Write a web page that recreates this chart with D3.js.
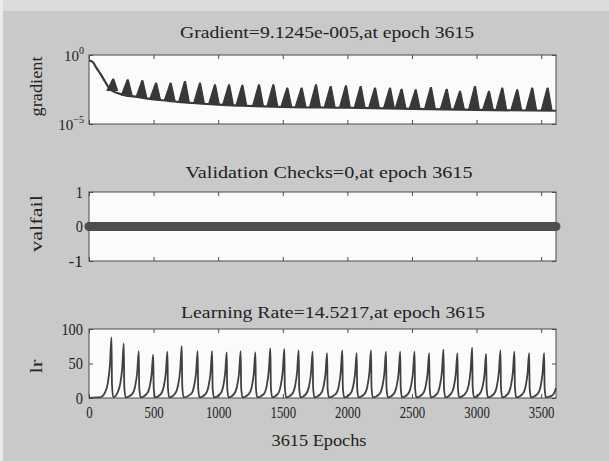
<!DOCTYPE html>
<html>
<head>
<meta charset="utf-8">
<script src="https://cdn.jsdelivr.net/npm/d3@7"></script>
<style>
  html, body { margin: 0; padding: 0; background: #cacaca; }
  svg { display: block; }
  text { font-family: "Liberation Serif", "DejaVu Serif", serif; fill: #222; }
</style>
</head>
<body>
<script>
// figure size
var svgWidth = 609;
var svgHeight = 461;

// x axis (epochs)
var epochMax = 3615;
var xTicks = [0, 500, 1000, 1500, 2000, 2500, 3000, 3500];

// titles
var titles = [
  "Gradient=9.1245e-005,at epoch 3615",
  "Validation Checks=0,at epoch 3615",
  "Learning Rate=14.5217,at epoch 3615"
];
var yLabels = ["gradient", "valfail", "lr"];
var xLabel = "3615 Epochs";

// gradient: lower line (epoch, value)
var gradEpoch = [0, 26, 59, 85, 124, 155, 175, 266, 382, 485, 614, 743, 872, 1001, 1182, 1500, 2000, 2500, 3000, 3615];
var gradValue = [0.39, 0.33, 0.11, 0.048, 0.012, 4.0e-3, 2.7e-3, 1.3e-3, 8.9e-4, 6.3e-4, 4.8e-4, 3.6e-4, 3.0e-4, 2.5e-4, 2.1e-4, 1.7e-4, 1.5e-4, 1.25e-4, 1.05e-4, 9.1245e-5];

// gradient oscillation teeth: peak epoch, top value, base value
var toothEpoch = [188, 300, 413, 519, 632, 743, 859, 975, 1084, 1187, 1316, 1427, 1535, 1646, 1757, 1871,
  1989, 2103, 2214, 2330, 2420, 2529, 2647, 2769, 2872, 2988, 3096, 3199, 3315, 3431, 3550];
var toothTop = [1.8e-2, 1.6e-2, 1.4e-2, 9.1e-3, 9.1e-3, 1.2e-2, 9.1e-3, 6.9e-3, 6.9e-3, 6.3e-3, 6.9e-3, 6.9e-3, 4.0e-3, 4.0e-3, 6.9e-3, 5.2e-3,
  5.8e-3, 5.2e-3, 4.0e-3, 4.0e-3, 3.3e-3, 3.0e-3, 4.4e-3, 3.3e-3, 2.3e-3, 5.2e-3, 2.3e-3, 4.0e-3, 3.0e-3, 4.0e-3, 4.0e-3];
var toothBase = [2.5e-3, 1.17e-3, 8.1e-4, 5.9e-4, 4.6e-4, 3.6e-4, 3.0e-4, 2.5e-4, 2.3e-4, 2.1e-4, 1.95e-4, 1.8e-4, 1.74e-4, 1.66e-4, 1.6e-4, 1.56e-4,
  1.5e-4, 1.45e-4, 1.4e-4, 1.33e-4, 1.28e-4, 1.23e-4, 1.19e-4, 1.14e-4, 1.1e-4, 1.05e-4, 1.02e-4, 1.0e-4, 9.8e-5, 9.5e-5, 9.3e-5];

// validation checks
var valEpoch = [0, 3615];
var valValue = [0, 0];

// learning rate (epoch, value)
var lrEpoch = [
  0, 90, 124, 146, 162, 174, 178, 188,
  219, 241, 257, 269, 273, 283,
  335, 357, 373, 385, 389, 399,
  447, 469, 485, 497, 501, 511,
  557, 579, 595, 607, 611, 621,
  668, 690, 706, 718, 722, 732,
  791, 813, 829, 841, 845, 855,
  903, 925, 941, 953, 957, 967,
  1016, 1038, 1054, 1066, 1070, 1080,
  1124, 1146, 1162, 1174, 1178, 1188,
  1238, 1260, 1276, 1288, 1292, 1302,
  1354, 1376, 1392, 1404, 1408, 1418,
  1462, 1484, 1500, 1512, 1516, 1526,
  1573, 1595, 1611, 1623, 1627, 1637,
  1681, 1703, 1719, 1731, 1735, 1745,
  1793, 1815, 1831, 1843, 1847, 1857,
  1911, 1933, 1949, 1961, 1965, 1975,
  2022, 2044, 2060, 2072, 2076, 2086,
  2133, 2155, 2171, 2183, 2187, 2197,
  2249, 2271, 2287, 2299, 2303, 2313,
  2359, 2381, 2397, 2409, 2413, 2423,
  2470, 2492, 2508, 2520, 2524, 2534,
  2583, 2605, 2621, 2633, 2637, 2647,
  2694, 2716, 2732, 2744, 2748, 2758,
  2802, 2824, 2840, 2852, 2856, 2866,
  2916, 2938, 2954, 2966, 2970, 2980,
  3024, 3046, 3062, 3074, 3078, 3088,
  3135, 3157, 3173, 3185, 3189, 3199,
  3243, 3265, 3281, 3293, 3297, 3307,
  3357, 3379, 3395, 3407, 3411, 3421,
  3473, 3495, 3511, 3523, 3527, 3537,
  3580, 3600, 3615
];
var lrValue = [
  0.3, 1.2, 8, 22, 48, 88, 19, 1,
  7, 20, 43, 79, 17, 1,
  6, 17, 37, 68, 15, 1,
  6, 16, 35, 63, 14, 1,
  6, 17, 37, 67, 15, 1,
  7, 19, 41, 75, 17, 1,
  6, 17, 37, 68, 15, 1,
  6, 17, 37, 68, 15, 1,
  6, 16, 36, 66, 15, 1,
  6, 17, 37, 68, 15, 1,
  6, 16, 36, 66, 15, 1,
  6, 18, 40, 72, 16, 1,
  6, 18, 39, 71, 16, 1,
  6, 17, 38, 69, 15, 1,
  6, 17, 37, 67, 15, 1,
  6, 16, 36, 65, 14, 1,
  6, 17, 38, 69, 15, 1,
  6, 16, 36, 65, 14, 1,
  6, 17, 38, 69, 15, 1,
  6, 17, 37, 67, 15, 1,
  6, 17, 37, 67, 15, 1,
  6, 17, 37, 67, 15, 1,
  6, 16, 36, 65, 14, 1,
  6, 18, 38, 70, 15, 1,
  6, 16, 36, 65, 14, 1,
  7, 18, 40, 73, 16, 1,
  6, 16, 35, 64, 14, 1,
  6, 17, 38, 69, 15, 1,
  6, 17, 37, 67, 15, 1,
  6, 16, 36, 65, 14, 1,
  6, 16, 36, 65, 14, 1,
  3, 7, 14.5217
];

// layout
var plotLeft = 89, plotRight = 556;
var panels = [
  { top: 55, bottom: 124 },
  { top: 192, bottom: 261 },
  { top: 329, bottom: 398 }
];
var titlePos = [[327, 38, 294], [329, 178, 287], [333, 318, 304]];
var lineColor = "#383838";
var boxColor = "#4a4a4a";
var fontStack = '"Liberation Serif", "DejaVu Serif", serif';

var svg = d3.select("body")
  .append("svg")
  .attr("width", svgWidth)
  .attr("height", svgHeight);

// scanned page tint
svg.append("rect").attr("width", svgWidth).attr("height", svgHeight).attr("fill", "#c9c9c9");
svg.append("rect").attr("width", svgWidth).attr("height", 11).attr("fill", "#dcdcdc");
svg.append("rect").attr("width", 3).attr("height", svgHeight).attr("fill", "#ebebeb");

var x = d3.scaleLinear().domain([0, epochMax]).range([plotLeft, plotRight]);

var yScales = [
  d3.scaleLog().domain([1e-5, 1]).range([panels[0].bottom, panels[0].top]),
  d3.scaleLinear().domain([-1, 1]).range([panels[1].bottom, panels[1].top]),
  d3.scaleLinear().domain([0, 100]).range([panels[2].bottom, panels[2].top])
];
var yTicks = [[1e-5, 1], [-1, 0, 1], [0, 50, 100]];

function squeeze(sel, perChar) {
  sel.each(function() {
    var t = d3.select(this);
    var s = t.text();
    if (s.length) t.attr("textLength", s.length * perChar).attr("lengthAdjust", "spacingAndGlyphs");
  });
}

panels.forEach(function(p, i) {
  var y = yScales[i];
  var g = svg.append("g");

  // plot area
  g.append("rect")
    .attr("x", plotLeft).attr("y", p.top)
    .attr("width", plotRight - plotLeft).attr("height", p.bottom - p.top)
    .attr("fill", "#fbfbfb");

  // ticks on all four sides, pointing inwards
  var bottomAxis = d3.axisBottom(x).tickValues(xTicks).tickSizeInner(-4).tickSizeOuter(0).tickPadding(8);
  if (i < 2) bottomAxis.tickFormat("");
  else bottomAxis.tickFormat(d => String(d));
  var gb = g.append("g").attr("transform", `translate(0, ${p.bottom})`).call(bottomAxis);
  g.append("g").attr("transform", `translate(0, ${p.top})`)
    .call(d3.axisTop(x).tickValues(xTicks).tickSizeInner(-4).tickSizeOuter(0).tickFormat(""));

  var leftAxis = d3.axisLeft(y).tickValues(yTicks[i]).tickSizeInner(-4).tickSizeOuter(0).tickPadding(6);
  if (i == 0) leftAxis.tickFormat("");
  else leftAxis.tickFormat(d => String(d));
  var gl = g.append("g").attr("transform", `translate(${plotLeft}, 0)`).call(leftAxis);
  g.append("g").attr("transform", `translate(${plotRight}, 0)`)
    .call(d3.axisRight(y).tickValues(yTicks[i]).tickSizeInner(-4).tickSizeOuter(0).tickFormat(""));

  g.selectAll(".domain").remove();
  g.selectAll(".tick line").attr("stroke", boxColor);
  g.selectAll(".tick text")
    .style("font-family", fontStack)
    .style("font-size", "17px")
    .attr("fill", "#222");
  squeeze(gb.selectAll(".tick text"), 6.4);
  squeeze(gl.selectAll(".tick text"), 7.2);

  // title
  svg.append("text")
    .attr("x", titlePos[i][0]).attr("y", titlePos[i][1])
    .attr("text-anchor", "middle")
    .attr("font-size", 16)
    .attr("textLength", titlePos[i][2]).attr("lengthAdjust", "spacingAndGlyphs")
    .text(titles[i]);

  // y label
  var yl = [60, 57, 14][i];
  svg.append("text")
    .attr("transform", `translate(42, ${(p.top + p.bottom) / 2 + (i == 2 ? 3 : -3)}) rotate(-90)`)
    .attr("text-anchor", "middle")
    .attr("font-size", 16)
    .attr("textLength", yl).attr("lengthAdjust", "spacingAndGlyphs")
    .text(yLabels[i]);
});

// log axis labels 10^0 and 10^-5 (one text each, exponent as tspan)
[[1, "0"], [1e-5, "\u22125"]].forEach(function(d) {
  var t = svg.append("text")
    .attr("x", 84).attr("y", yScales[0](d[0]) + 6)
    .attr("text-anchor", "end")
    .attr("font-size", 15);
  t.append("tspan").text("10");
  t.append("tspan").attr("dy", -7).attr("font-size", 10).text(d[1]);
});

// x label
svg.append("text")
  .attr("x", 319).attr("y", 446)
  .attr("text-anchor", "middle")
  .attr("font-size", 16)
  .attr("textLength", 95).attr("lengthAdjust", "spacingAndGlyphs")
  .text(xLabel);

// ---- gradient panel ----
var yg = yScales[0];
var teeth = toothEpoch.map((e, i) => [[e - 50, toothBase[i]], [e - 4, toothTop[i]], [e + 4, toothTop[i]], [e + 34, toothBase[i]]]);
svg.append("g").selectAll("path")
  .data(teeth)
  .enter()
  .append("path")
  .attr("d", d3.line().x(d => x(d[0])).y(d => yg(d[1])))
  .attr("fill", lineColor)
  .attr("stroke", lineColor)
  .attr("stroke-width", 1.2)
  .attr("stroke-linejoin", "round");

var gradLine = d3.line()
  .x(d => x(d[0]))
  .y(d => yg(d[1]))
  .curve(d3.curveMonotoneX);
svg.append("path")
  .datum(gradEpoch.map((e, i) => [e, gradValue[i]]))
  .attr("d", gradLine)
  .attr("fill", "none")
  .attr("stroke", lineColor)
  .attr("stroke-width", 2.2);

// ---- validation panel ----
var yv = yScales[1];
svg.append("path")
  .datum(valEpoch.map((e, i) => [e, valValue[i]]))
  .attr("d", d3.line().x(d => x(d[0])).y(d => yv(d[1])))
  .attr("fill", "none")
  .attr("stroke", "#4e4e4e")
  .attr("stroke-width", 9)
  .attr("stroke-linecap", "round");

// ---- learning rate panel ----
var ylr = yScales[2];
svg.append("path")
  .datum(lrEpoch.map((e, i) => [e, lrValue[i]]))
  .attr("d", d3.line().x(d => x(d[0])).y(d => ylr(d[1])).curve(d3.curveMonotoneX))
  .attr("fill", "none")
  .attr("stroke", "#404040")
  .attr("stroke-width", 1.8);

// box outlines on top
panels.forEach(function(p) {
  svg.append("rect")
    .attr("x", plotLeft).attr("y", p.top)
    .attr("width", plotRight - plotLeft).attr("height", p.bottom - p.top)
    .attr("fill", "none")
    .attr("stroke", boxColor)
    .attr("stroke-width", 1);
});
</script>
</body>
</html>
